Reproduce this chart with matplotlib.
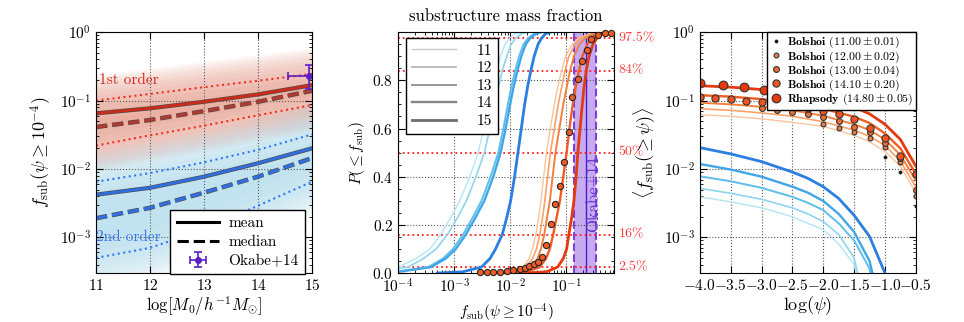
import numpy as np
import matplotlib
matplotlib.use('Agg')
import matplotlib.pyplot as plt
import matplotlib.patheffects as pe
import matplotlib.transforms as mtransforms
from matplotlib.lines import Line2D
from matplotlib.ticker import AutoMinorLocator, MultipleLocator, FormatStrFormatter

plt.rcParams['font.family'] = 'serif'
plt.rcParams['font.serif'] = ['cmr10']
plt.rcParams['mathtext.fontset'] = 'cm'
plt.rcParams['axes.formatter.use_mathtext'] = True
plt.rcParams['axes.unicode_minus'] = True

# ---------------- left panel: fsub vs host mass ----------------
masses = [11, 12, 13, 14, 15]
first_upper = [0.100, 0.125, 0.157, 0.195, 0.245]
first_mean = [0.065, 0.077, 0.096, 0.123, 0.168]
first_median = [0.041, 0.052, 0.070, 0.096, 0.139]
first_lower = [0.022, 0.031, 0.043, 0.061, 0.086]
second_upper = [0.0065, 0.0087, 0.0125, 0.019, 0.032]
second_mean = [0.0042, 0.0053, 0.0077, 0.0121, 0.020]
second_median = [0.0019, 0.0027, 0.0045, 0.0077, 0.0144]
second_lower = [0.0005, 0.0007, 0.0013, 0.0029, 0.0065]
okabe_mass, okabe_mass_err = 14.95, 0.4
okabe_fsub, okabe_fsub_err = 0.228, [[0.082], [0.10]]

# ---------------- middle panel: CDFs ----------------
cdf_levels = [0.0, 0.005, 0.025, 0.06, 0.1, 0.16, 0.23, 0.3, 0.4, 0.5, 0.6, 0.7, 0.77,
              0.84, 0.9, 0.95, 0.975, 0.993, 1.0]
# log10 fsub at each cdf level, 2nd order (blue)
cdf2_11 = [-5.0, -4.55, -4.00, -3.68, -3.43, -3.24, -3.06, -2.90, -2.72, -2.57, -2.47,
           -2.38, -2.32, -2.25, -2.17, -2.09, -2.01, -1.91, -1.80]
cdf2_12 = [-4.9, -4.40, -3.82, -3.55, -3.32, -3.12, -2.94, -2.78, -2.61, -2.46, -2.36,
           -2.27, -2.21, -2.14, -2.06, -1.98, -1.90, -1.80, -1.69]
cdf2_13 = [-4.6, -4.05, -3.46, -3.20, -3.02, -2.84, -2.67, -2.51, -2.35, -2.21, -2.12,
           -2.04, -1.98, -1.91, -1.84, -1.76, -1.68, -1.58, -1.48]
cdf2_14 = [-4.55, -4.00, -3.41, -3.15, -2.97, -2.79, -2.62, -2.46, -2.30, -2.17, -2.08,
           -2.00, -1.94, -1.87, -1.80, -1.72, -1.64, -1.54, -1.44]
cdf2_15 = [-3.3, -2.85, -2.51, -2.36, -2.26, -2.14, -2.06, -1.99, -1.92, -1.86, -1.80,
           -1.74, -1.69, -1.63, -1.57, -1.50, -1.44, -1.37, -1.28]
# 1st order (orange)
cdf1_11 = [-2.45, -2.03, -1.77, -1.66, -1.60, -1.54, -1.49, -1.45, -1.40, -1.35, -1.28,
           -1.21, -1.15, -1.08, -1.01, -0.89, -0.78, -0.58, -0.38]
cdf1_12 = [-2.4, -1.97, -1.71, -1.60, -1.53, -1.47, -1.42, -1.38, -1.33, -1.28, -1.21,
           -1.14, -1.08, -1.02, -0.95, -0.84, -0.73, -0.55, -0.36]
cdf1_13 = [-2.3, -1.88, -1.62, -1.51, -1.45, -1.39, -1.34, -1.29, -1.24, -1.19, -1.12,
           -1.05, -0.99, -0.93, -0.86, -0.76, -0.66, -0.50, -0.33]
cdf1_14 = [-2.1, -1.70, -1.47, -1.36, -1.29, -1.23, -1.17, -1.11, -1.05, -0.99, -0.94,
           -0.88, -0.83, -0.77, -0.71, -0.62, -0.54, -0.42, -0.28]
cdf1_15 = [-1.75, -1.35, -1.15, -1.05, -0.99, -0.95, -0.90, -0.86, -0.82, -0.79, -0.75,
           -0.71, -0.68, -0.64, -0.59, -0.52, -0.45, -0.35, -0.20]
sim_cdf_log = [-2.54, -2.42, -2.30, -2.18, -2.06, -1.94, -1.82, -1.73, -1.655, -1.58, -1.505,
               -1.43, -1.357, -1.27, -1.19, -1.113, -1.036, -0.952, -0.893, -0.786, -0.708,
               -0.625, -0.56, -0.43, -0.30, -0.20]
sim_cdf_p = [0.003, 0.003, 0.004, 0.0055, 0.007, 0.0125, 0.017, 0.022, 0.029, 0.038, 0.045,
             0.066, 0.115, 0.203, 0.288, 0.363, 0.462, 0.587, 0.729, 0.806, 0.879,
             0.928, 0.972, 0.990, 0.995, 0.998]
pct_levels = [0.025, 0.16, 0.5, 0.84, 0.975]
pct_labels = ['2.5%', '16%', '50%', '84%', '97.5%']
okabe_lo, okabe_mid, okabe_hi = 0.14, 0.23, 0.34

# ---------------- right panel: <fsub(>=psi)> ----------------
psi_nodes = [-4.0, -3.5, -3.0, -2.5, -2.0, -1.5, -1.25, -1.0, -0.75, -0.5]
mean1_11 = [0.062, 0.059, 0.054, 0.048, 0.042, 0.031, 0.025, 0.018, 0.011, 0.0045]
mean1_12 = [0.076, 0.072, 0.066, 0.059, 0.049, 0.037, 0.030, 0.022, 0.013, 0.0055]
mean1_13 = [0.093, 0.088, 0.081, 0.072, 0.060, 0.045, 0.037, 0.027, 0.016, 0.0068]
mean1_14 = [0.120, 0.114, 0.105, 0.093, 0.076, 0.058, 0.047, 0.033, 0.020, 0.0085]
mean1_15 = [0.165, 0.157, 0.145, 0.128, 0.104, 0.080, 0.064, 0.045, 0.027, 0.011]
blue_psi = [-4.0, -3.5, -3.0, -2.5, -2.25, -2.0, -1.75, -1.5, -1.25, -1.0, -0.75]
mean2_11 = [0.0039, 0.0033, 0.0027, 0.0020, 0.0016, 0.0013, 0.0008, 0.0004, 0.00004]
mean2_12 = [0.0052, 0.0044, 0.0036, 0.0027, 0.0022, 0.0017, 0.0011, 0.0005, 0.00005]
mean2_13 = [0.0078, 0.0066, 0.0053, 0.0039, 0.0032, 0.0025, 0.0016, 0.0009, 0.00035, 0.00003]
mean2_14 = [0.0118, 0.0098, 0.0077, 0.0055, 0.0045, 0.0034, 0.0022, 0.0012, 0.00045, 0.00005]
mean2_15 = [0.0205, 0.0166, 0.0128, 0.0090, 0.0073, 0.0055, 0.0037, 0.0021, 0.00103, 0.0003,
            0.00003]
bolshoi_psi = [-4.0, -3.75, -3.5, -3.25, -3.0, -2.75, -2.5, -2.25, -2.0, -1.75, -1.5,
               -1.25, -1.0, -0.75, -0.5]
bolshoi_14 = [0.114, 0.108, 0.104, 0.099, 0.096, 0.089, 0.083, 0.077, 0.071, 0.0635,
              0.053, 0.040, 0.028, 0.0157, 0.0085]
bolshoi_13 = [0.077, 0.073, 0.069, 0.063, 0.058, 0.051, 0.0415, 0.035, 0.024, 0.0143, 0.0050]
bolshoi_12 = [0.045, 0.040, 0.035, 0.0286, 0.021, 0.0128, 0.0040]
bolshoi_11 = [0.0151, 0.0091, 0.0029]
rhapsody_psi = [-4.0, -3.62, -3.29, -2.96, -2.62, -2.29]
rhapsody_fsub = [0.178, 0.168, 0.159, 0.145, 0.127, 0.104]

blue_colors = ['#b2e6f5', '#8dd5f0', '#5fbfea', '#40a6e8', '#2a7fe0']
orange_colors = ['#fbc49c', '#f9a26a', '#f5803e', '#f05c22', '#e43a10']
widths = [1.0, 1.2, 1.4, 1.7, 2.0]
grey_colors = ['#c8c8c8', '#b0b0b0', '#999999', '#858585', '#6e6e6e']


def style_axes(ax):
    ax.tick_params(which='both', direction='in', top=True, right=True, labelsize=11)
    ax.tick_params(which='major', length=5)
    ax.tick_params(which='minor', length=2.5)
    ax.grid(True, which='major', ls=':', color='0.35', lw=0.8)


fig = plt.figure(figsize=(9.64, 3.22), dpi=100)

# ======== left ========
ax1 = fig.add_axes([0.0996, 0.152, 0.224, 0.748])
m = np.array(masses, dtype=float)
for s in np.linspace(0.55, 2.4, 12):
    ax1.fill_between(m, np.array(first_lower) / s, np.array(first_upper) * s,
                     color='#d84a2a', alpha=0.045, lw=0)
for s in np.linspace(0.55, 3.0, 12):
    ax1.fill_between(m, np.array(second_lower) / s, np.array(second_upper) * s,
                     color='#5ab8dc', alpha=0.035, lw=0)

stroke = lambda w: [pe.Stroke(linewidth=w + 1.0, foreground='0.3'), pe.Normal()]
ax1.plot(m, first_upper, ':', color='#ee3322', lw=1.5)
ax1.plot(m, first_lower, ':', color='#ee3322', lw=1.5)
ax1.plot(m, first_mean, '-', color='#cc2a1a', lw=2.0, path_effects=stroke(2.0))
ax1.plot(m, first_median, '--', color='#b03a2e', lw=2.2, path_effects=stroke(2.2))
ax1.plot(m, second_upper, ':', color='#3377ff', lw=1.5)
ax1.plot(m, second_lower, ':', color='#3377ff', lw=1.5)
ax1.plot(m, second_mean, '-', color='#2f6fe0', lw=2.0, path_effects=stroke(2.0))
ax1.plot(m, second_median, '--', color='#2f6fe0', lw=2.2, path_effects=stroke(2.2))
eb = ax1.errorbar(okabe_mass, okabe_fsub, xerr=okabe_mass_err, yerr=okabe_fsub_err,
                  fmt='o', color='#5b1fc9', ms=4, capsize=3, elinewidth=1.2, capthick=1.2)
ax1.text(11.05, 0.2, '1st order', color='#d42a1a', fontsize=11, va='center')
ax1.text(11.0, 0.001, '2nd order', color='#3a78e8', fontsize=11, va='center')

ax1.set_yscale('log')
ax1.set_xlim(11, 15)
ax1.set_ylim(3e-4, 1)
ax1.xaxis.set_major_locator(MultipleLocator(1))
style_axes(ax1)
ax1.set_xlabel(r'$\log[M_0/h^{-1}M_{\odot}]$', fontsize=12, labelpad=1)
ax1.set_ylabel(r'$f_{\rm sub}(\psi\geq10^{-4})$', fontsize=13)
h_mean = Line2D([], [], color='k', lw=2.2)
h_med = Line2D([], [], color='k', lw=2.2, ls='--')
leg1 = ax1.legend([h_mean, h_med, eb], ['mean', 'median', 'Okabe+14'], loc='lower right',
                  bbox_to_anchor=(0.968, -0.005), borderaxespad=0, fontsize=11,
                  handlelength=2.8, handletextpad=0.6, labelspacing=0.35,
                  fancybox=False, framealpha=1, edgecolor='k', numpoints=1)
leg1.get_frame().set_linewidth(1.0)

# ======== middle ========
ax2 = fig.add_axes([0.413, 0.152, 0.224, 0.748])
ax2.axvspan(okabe_lo, okabe_hi, color='#9966e6', alpha=0.55, lw=0, zorder=1)
ax2.axvline(okabe_lo, color='#7a3fdd', ls='--', lw=1.5, zorder=1.5)
ax2.axvline(okabe_hi, color='#7a3fdd', ls='--', lw=1.5, zorder=1.5)
ax2.axvline(okabe_mid, color='#4a1acc', lw=1.0, zorder=1.5)
ax2.text(okabe_mid * 1.01, 0.17, 'Okabe+14', color='#6633cc', fontsize=12, rotation=90,
         ha='left', va='bottom', zorder=1.6)
for p in pct_levels:
    ax2.axhline(p, color='#ff2020', ls=':', lw=1.3, zorder=1.8)
trans = mtransforms.blended_transform_factory(ax2.transAxes, ax2.transData)
for p, lab in zip(pct_levels, pct_labels):
    ax2.text(1.02, p, lab, color='#ff3a3a', fontsize=10, va='center', ha='left',
             transform=trans)

cdf2 = [cdf2_11, cdf2_12, cdf2_13, cdf2_14, cdf2_15]
cdf1 = [cdf1_11, cdf1_12, cdf1_13, cdf1_14, cdf1_15]
for k in range(5):
    ax2.plot(10 ** np.array(cdf2[k]), cdf_levels, color=blue_colors[k], lw=widths[k], zorder=2)
    ax2.plot(10 ** np.array(cdf1[k]), cdf_levels, color=orange_colors[k], lw=widths[k], zorder=2)
ax2.plot(10 ** np.array(sim_cdf_log), sim_cdf_p, 'o', mfc='#f05a24', mec='0.15', mew=0.8,
         ms=4.5, zorder=3, clip_on=False)

ax2.set_xscale('log')
ax2.set_xlim(1e-4, 0.72)
ax2.set_ylim(0, 1.0)
ax2.set_yticks([0.0, 0.2, 0.4, 0.6, 0.8])
ax2.yaxis.set_minor_locator(AutoMinorLocator(4))
style_axes(ax2)
ax2.set_xlabel(r'$f_{\rm sub}(\psi\geq10^{-4})$', fontsize=11)
ax2.set_ylabel(r'$P(\leq f_{\rm sub})$', fontsize=11)
ax2.set_title('substructure mass fraction', fontsize=12, pad=8)
leg_handles = [Line2D([], [], color=grey_colors[k], lw=widths[k]) for k in range(5)]
leg2 = ax2.legend(leg_handles, [str(x) for x in masses], loc='upper left',
                  bbox_to_anchor=(0.036, 0.976), borderaxespad=0, fontsize=11,
                  handlelength=2.9, handletextpad=1.3, labelspacing=0.25,
                  fancybox=False, framealpha=1, edgecolor='k')
leg2.get_frame().set_linewidth(1.0)

# ======== right ========
ax3 = fig.add_axes([0.726, 0.152, 0.224, 0.748])
mean2 = [mean2_11, mean2_12, mean2_13, mean2_14, mean2_15]
mean1 = [mean1_11, mean1_12, mean1_13, mean1_14, mean1_15]
for k in range(5):
    ax3.plot(blue_psi[:len(mean2[k])], mean2[k], color=blue_colors[k], lw=widths[k])
    ax3.plot(psi_nodes, mean1[k], color=orange_colors[k], lw=widths[k])

p11, = ax3.plot(bolshoi_psi[-3:], bolshoi_11, 'o', mfc='k', mec='0.2', ms=2.2, mew=0.6,
                label=r'$\mathbf{Bolshoi}$ $(11.00\pm0.01)$')
p12, = ax3.plot(bolshoi_psi[-7:], bolshoi_12, 'o', mfc='#e8804a', mec='0.2', ms=3.5, mew=0.8,
                label=r'$\mathbf{Bolshoi}$ $(12.00\pm0.02)$')
p13, = ax3.plot(bolshoi_psi[-11:], bolshoi_13, 'o', mfc='#f07030', mec='0.2', ms=4.2, mew=0.8,
                label=r'$\mathbf{Bolshoi}$ $(13.00\pm0.04)$')
p14, = ax3.plot(bolshoi_psi, bolshoi_14, 'o', mfc='#ee5522', mec='0.2', ms=5.2, mew=0.8,
                label=r'$\mathbf{Bolshoi}$ $(14.10\pm0.20)$')
prh, = ax3.plot(rhapsody_psi, rhapsody_fsub, 'o', mfc='#e8380e', mec='0.2', ms=6.3, mew=0.8,
                label=r'$\mathbf{Rhapsody}$ $(14.80\pm0.05)$')

ax3.set_yscale('log')
ax3.set_xlim(-4.0, -0.5)
ax3.set_ylim(3e-4, 1)
ax3.xaxis.set_major_locator(MultipleLocator(0.5))
ax3.xaxis.set_major_formatter(FormatStrFormatter(r'$%.1f$'))
style_axes(ax3)
ax3.set_xlabel(r'$\log(\psi)$', fontsize=13, labelpad=1)
ax3.set_ylabel(r'$\langle f_{\rm sub}(\geq\psi)\rangle$', fontsize=13)
leg3 = ax3.legend(handles=[p11, p12, p13, p14, prh], loc='upper right', borderaxespad=0,
                  fontsize=8.5, handlelength=1.0, handletextpad=0.4, labelspacing=-0.1,
                  borderpad=0.25, numpoints=1, fancybox=False, framealpha=1, edgecolor='k')
leg3.get_frame().set_linewidth(1.0)

fig.savefig('out.png', dpi=100)
